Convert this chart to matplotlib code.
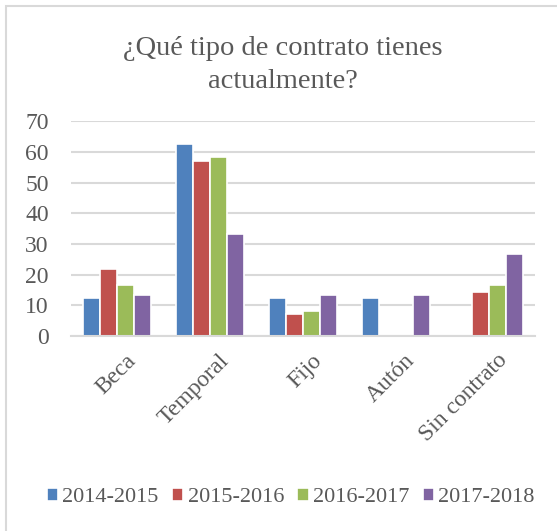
import matplotlib
matplotlib.use("Agg")
import matplotlib.pyplot as plt
import matplotlib.transforms as mtransforms
import numpy as np
from matplotlib.patches import Rectangle

categories = ["Beca", "Temporal", "Fijo", "Autón", "Sin contrato"]
series = ["2014-2015", "2015-2016", "2016-2017", "2017-2018"]
v_2014 = [12.5, 62.5, 12.5, 12.5, 0]
v_2015 = [21.9, 57.1, 7.1, 0, 14.3]
v_2016 = [16.7, 58.3, 8.3, 0, 16.7]
v_2017 = [13.3, 33.3, 13.3, 13.3, 26.7]
values = [v_2014, v_2015, v_2016, v_2017]
colors = ["#4F81BD", "#C0504D", "#9BBB59", "#8064A2"]

txt = "#595959"
plt.rcParams['font.family'] = ['Liberation Serif', 'DejaVu Serif']

fig = plt.figure(figsize=(5.57, 5.31), dpi=100)
ax = fig.add_axes([0.1275, 0.367, 0.833, 0.405])

x = np.arange(len(categories))
step = 0.183
for i, (s, vals) in enumerate(zip(series, values)):
    ax.bar(x + (i - 1.5) * step, vals, width=step, color=colors[i],
           edgecolor="white", linewidth=1.2, label=s, zorder=3)

ax.set_xlim(-0.5, len(categories) - 0.5)
ax.set_ylim(0, 70)
ax.set_yticks(range(0, 71, 10))
ax.yaxis.grid(True, color="#D9D9D9", linewidth=1.5, zorder=0)
for sp in ["top", "right", "left"]:
    ax.spines[sp].set_visible(False)
ax.spines["bottom"].set_color("#D9D9D9")
ax.spines["bottom"].set_linewidth(1.5)
ax.spines["bottom"].set_zorder(4)
ax.tick_params(axis="both", length=0, labelsize=17, colors=txt)
ax.tick_params(axis="y", pad=16)
ax.tick_params(axis="x", pad=10)
ax.set_xticks(x)
ax.set_xticklabels(categories, rotation=45, ha="right", va="top",
                   rotation_mode="anchor")
shift = mtransforms.ScaledTranslation(0.08, 0, fig.dpi_scale_trans)
for lab in ax.get_xticklabels():
    lab.set_transform(lab.get_transform() + shift)

fig.text(0.508, 0.878, "¿Qué tipo de contrato tienes\nactualmente?", ha="center",
         va="center", fontsize=20.5, color=txt, linespacing=1.4)

fig.legend(loc="center", bbox_to_anchor=(0.522, 0.063), ncol=4, frameon=False,
           fontsize=16, handlelength=0.5, handleheight=0.5, handletextpad=0.2,
           columnspacing=0.6, labelcolor=txt)

fig.patches.append(Rectangle((6 / 557, -0.1), 1.2, 1.1 - 6 / 531, transform=fig.transFigure,
                             fill=False, edgecolor="#D9D9D9", linewidth=1.5))

fig.savefig("out.png", dpi=100)
